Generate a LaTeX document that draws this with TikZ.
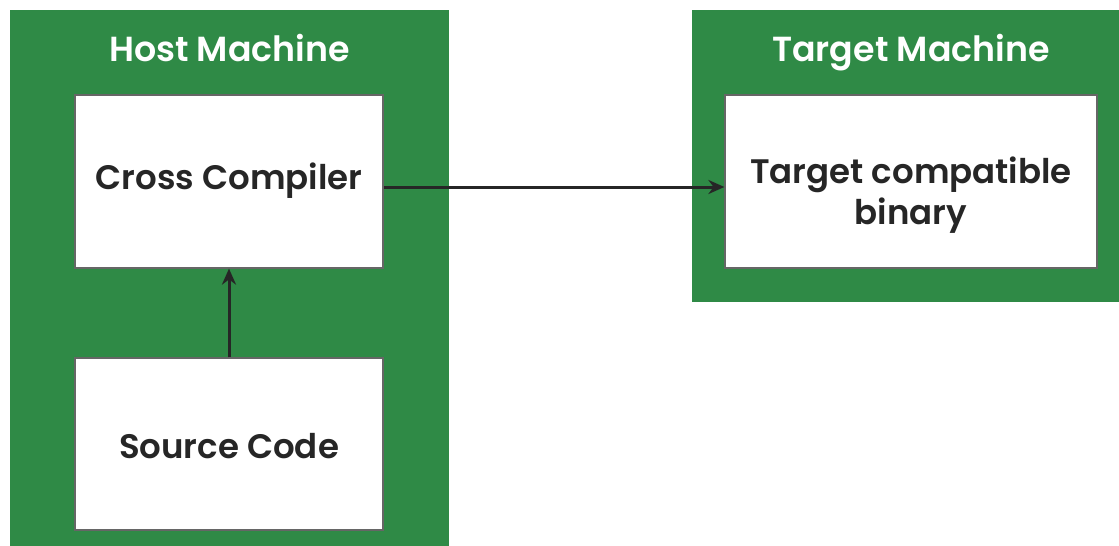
\documentclass[tikz,border=0pt]{standalone}
\usepackage{fontspec}
\setmainfont{Poppins}[BoldFont={Poppins SemiBold}]
\usetikzlibrary{arrows.meta}
\definecolor{gfg}{HTML}{2F8A46}
\begin{document}
\begin{tikzpicture}[x=1pt,y=-1pt,
  machine/.style={fill=gfg,draw=none},
  inbox/.style={fill=white,draw=black!60,line width=1.2pt},
  title/.style={text=white,font=\fontsize{34.8}{40}\selectfont\bfseries,text height=24pt,text depth=0pt},
  label/.style={text=black!85,font=\fontsize{34}{41}\selectfont\bfseries,align=center},
  conn/.style={-{Stealth[length=16pt,width=14pt]},line width=3pt,draw=black!85}]
\useasboundingbox (0,0) rectangle (1119,546);
\fill[white] (0,0) rectangle (1119,546);
% machines
\path[machine] (10,10) rectangle (449,546);
\path[machine] (692,10) rectangle (1119,302);
\node[title] (hosttitle) at (229.5,49) {Host Machine};
\node[title] (targettitle) at (911,49) {Target Machine};
% inner boxes
\node[inbox,minimum width=308pt,minimum height=173pt,inner sep=0pt] (cc) at (229,181.5) {};
\node[label] (cctext) at (229,181) {Cross Compiler};
\node[inbox,minimum width=308pt,minimum height=172pt,inner sep=0pt] (src) at (229,444) {};
\node[label] (srctext) at (229,446) {Source Code};
\node[inbox,minimum width=372pt,minimum height=173pt,inner sep=0pt] (tgt) at (911,181.5) {};
\node[label] (tgttext) at (911,195) {Target compatible\\binary};
% connectors
\draw[conn] (src.north) -- (cc.south);
\draw[conn] (cc.east |- 0,187) -- (tgt.west |- 0,187);
\end{tikzpicture}
\end{document}
